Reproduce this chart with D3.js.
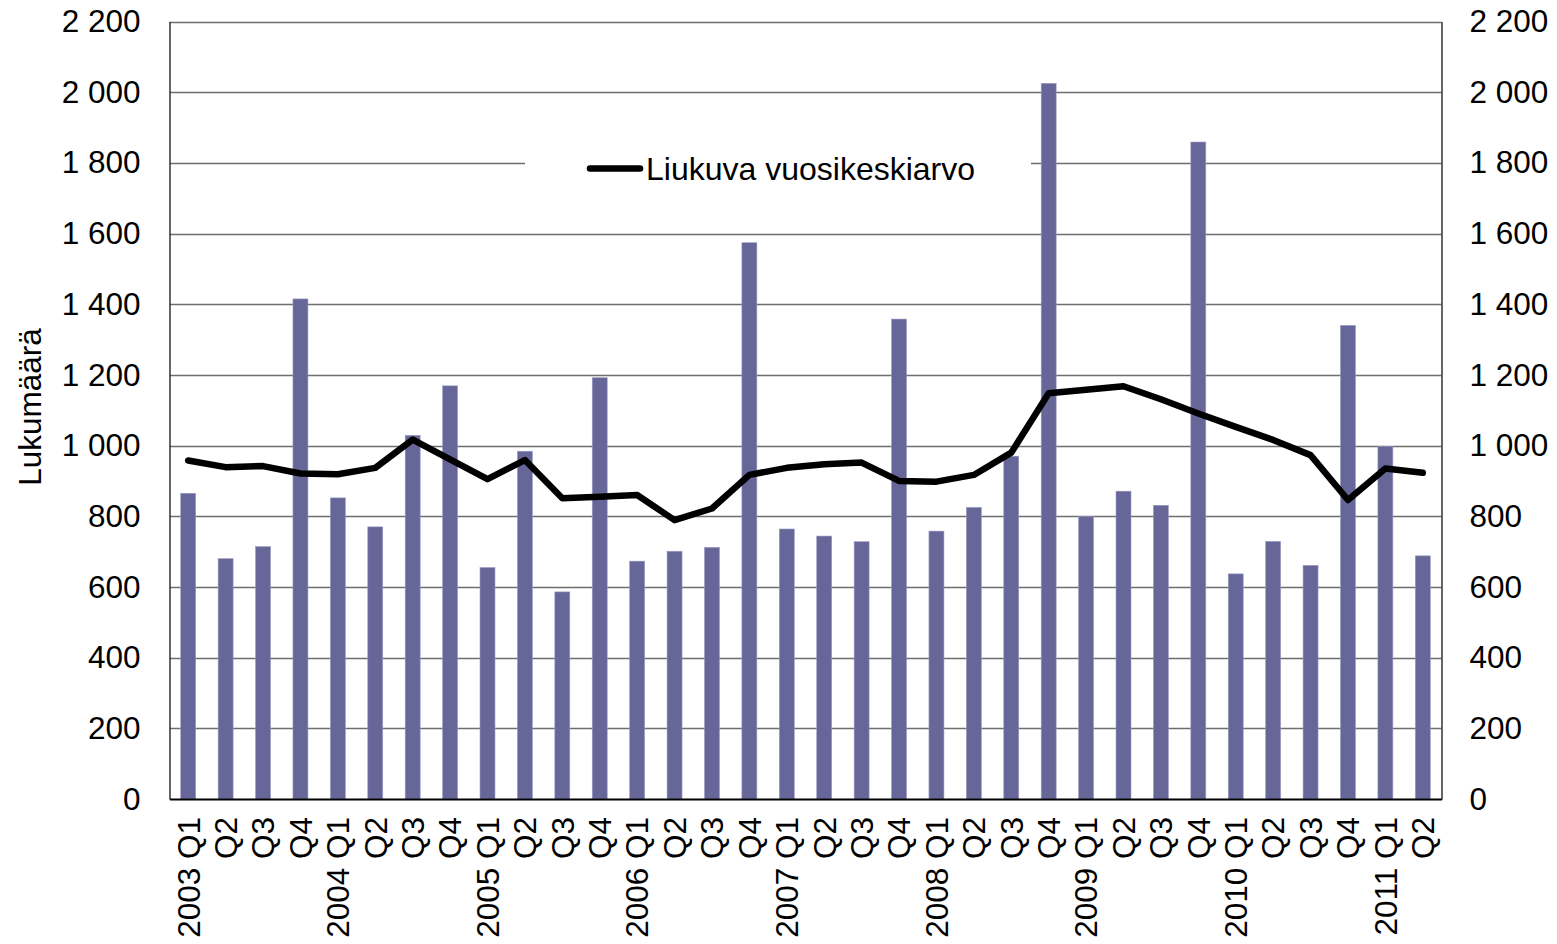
<!DOCTYPE html>
<html>
<head>
<meta charset="utf-8">
<title>Lukumäärä</title>
<script src="https://d3js.org/d3.v7.min.js"></script>
<style>
  body { margin: 0; background: #fff; }
  text { font-family: "Liberation Sans", Arial, sans-serif; fill: #000; }
</style>
</head>
<body>
<div id="chart"></div>
<script>
// data
var categories = ["2003 Q1","Q2","Q3","Q4","2004 Q1","Q2","Q3","Q4","2005 Q1","Q2","Q3","Q4",
                  "2006 Q1","Q2","Q3","Q4","2007 Q1","Q2","Q3","Q4","2008 Q1","Q2","Q3","Q4",
                  "2009 Q1","Q2","Q3","Q4","2010 Q1","Q2","Q3","Q4","2011 Q1","Q2"];
var counts = [865, 680, 714, 1415, 852, 770, 1029, 1169, 655, 984, 586, 1192,
              673, 701, 712, 1574, 764, 744, 728, 1358, 758, 825, 970, 2025,
              799, 871, 831, 1859, 637, 729, 661, 1340, 997, 688];
var movingAvg = [958, 939, 942, 921, 919, 937, 1017, 961, 905, 959, 851, 855,
                 860, 789, 822, 917, 937, 947, 952, 900, 898, 917, 980, 1148,
                 1158, 1168, 1131, 1091, 1053, 1016, 973, 846, 935, 923];
var yTicks = [0, 200, 400, 600, 800, 1000, 1200, 1400, 1600, 1800, 2000, 2200];
var legendLabel = "Liukuva vuosikeskiarvo";
var yTitle = "Lukumäärä";

var W = 1557, H = 944;
var x0 = 169.5, x1 = 1441.5, yTop = 21.5, yBottom = 799;
var fs = "31.5px";

var svg = d3.select("#chart").append("svg")
    .attr("width", W).attr("height", H);

var x = d3.scaleBand()
    .domain(d3.range(categories.length))
    .range([x0, x1])
    .paddingInner(0.6)
    .paddingOuter(0.3);

var y = d3.scaleLinear().domain([0, 2200]).range([yBottom, yTop]);

var fmt = d3.formatLocale({decimal: ",", thousands: " ", grouping: [3], currency: ["", ""]}).format(",d");

// gridlines
svg.append("g").selectAll("line")
    .data(yTicks.filter(function(d) { return d > 0; }))
    .enter().append("line")
    .attr("x1", x0).attr("x2", x1)
    .attr("y1", function(d) { return Math.round(y(d)) + 0.5; })
    .attr("y2", function(d) { return Math.round(y(d)) + 0.5; })
    .style("stroke", "#6e6e6e")
    .style("stroke-width", 1.5);

// bars
svg.append("g").selectAll("rect")
    .data(counts)
    .enter().append("rect")
    .attr("x", function(d, i) { return x(i); })
    .attr("width", x.bandwidth())
    .attr("y", function(d) { return y(d); })
    .attr("height", function(d) { return yBottom - y(d); })
    .style("fill", "#666699")
    .style("stroke", "#9a9ac4")
    .style("stroke-width", 0.6);

// moving average line
var line = d3.line()
    .x(function(d, i) { return x(i) + x.bandwidth() / 2; })
    .y(function(d) { return y(d); });

svg.append("path")
    .datum(movingAvg)
    .attr("d", line)
    .style("fill", "none")
    .style("stroke", "#000")
    .style("stroke-width", 6.5)
    .style("stroke-linejoin", "round")
    .style("stroke-linecap", "round");

// axes
var leftAxis = d3.axisLeft(y).tickValues(yTicks).tickFormat(fmt).tickSize(0).tickPadding(29);
var rightAxis = d3.axisRight(y).tickValues(yTicks).tickFormat(fmt).tickSize(0).tickPadding(28);

var gl = svg.append("g").attr("transform", "translate(" + x0 + ",0)").call(leftAxis);
var gr = svg.append("g").attr("transform", "translate(" + x1 + ",0)").call(rightAxis);
[gl, gr].forEach(function(g) {
  g.select(".domain").style("stroke", "#333").style("stroke-width", 1.5);
  g.selectAll("text").style("font-size", fs).style("font-family", "Liberation Sans, Arial, sans-serif");
});

var bottomAxis = d3.axisBottom(x).tickFormat(function(i) { return categories[i]; }).tickSize(0);
var gb = svg.append("g").attr("transform", "translate(0," + yBottom + ")").call(bottomAxis);
gb.select(".domain").style("stroke", "#000").style("stroke-width", 2);
gb.selectAll("text")
    .style("font-size", fs)
    .style("font-family", "Liberation Sans, Arial, sans-serif")
    .style("text-anchor", "end")
    .attr("transform", "rotate(-90)")
    .attr("x", -18)
    .attr("y", 0)
    .attr("dy", "0.36em");

// y title
svg.append("text")
    .attr("transform", "translate(41,407) rotate(-90)")
    .style("text-anchor", "middle")
    .style("font-size", fs)
    .text(yTitle);

// legend
var lg = svg.append("g");
lg.append("rect")
    .attr("x", 525).attr("y", 140).attr("width", 506).attr("height", 60)
    .style("fill", "#fff");
lg.append("line")
    .attr("x1", 590).attr("x2", 640).attr("y1", 168.5).attr("y2", 168.5)
    .style("stroke", "#000").style("stroke-width", 6.5).style("stroke-linecap", "round");
lg.append("text")
    .attr("x", 646).attr("y", 180)
    .style("font-size", "32px")
    .text(legendLabel);
</script>
</body>
</html>
